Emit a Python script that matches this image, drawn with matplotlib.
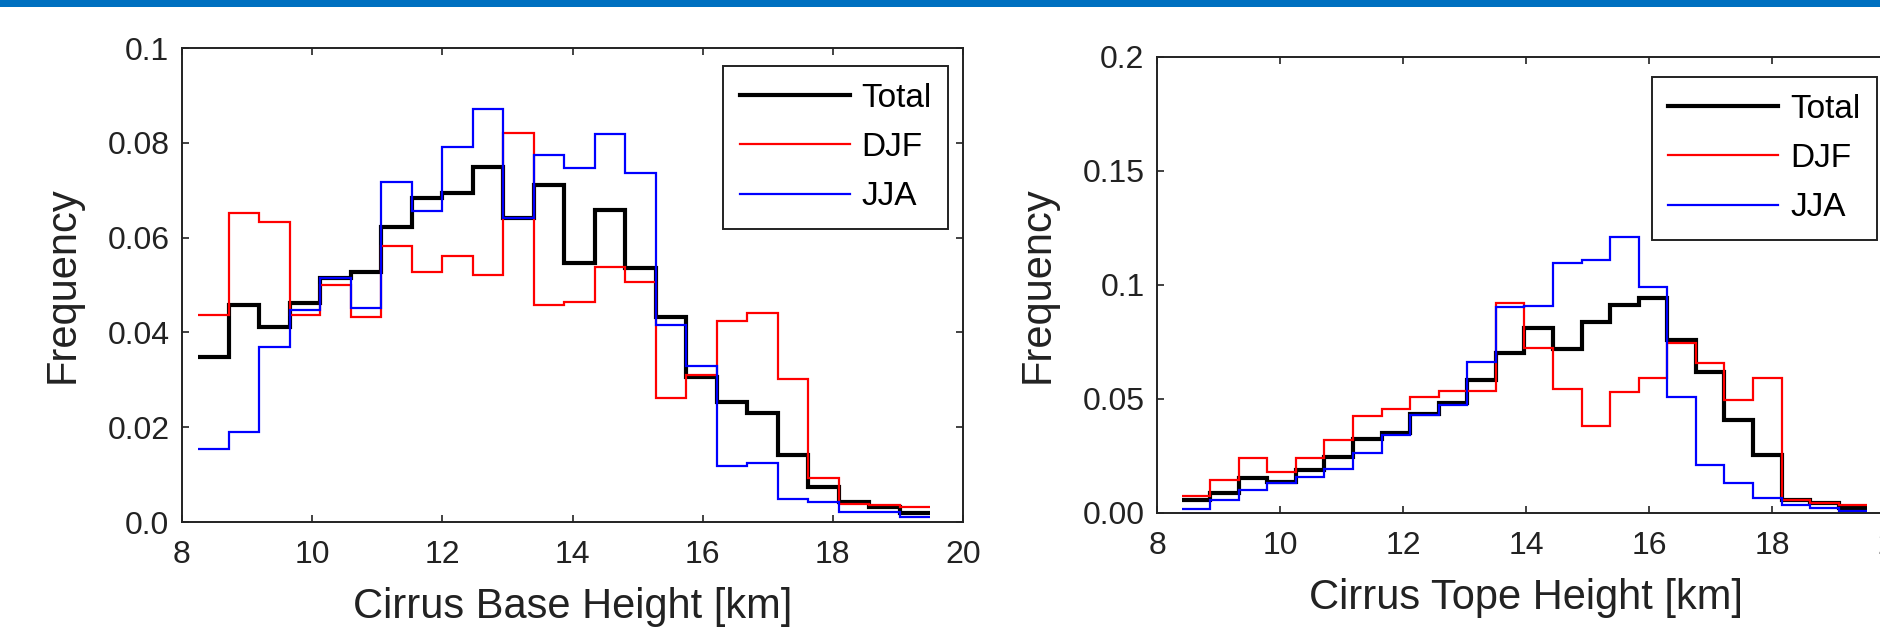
import numpy as np
import matplotlib
matplotlib.use("Agg")
import matplotlib.pyplot as plt
from matplotlib.patches import Rectangle

plt.rcParams['font.family'] = ['Liberation Sans', 'DejaVu Sans']

# bin edges (24 bins each)
base_edges = np.linspace(8.25, 19.5, 25)
top_edges = np.linspace(8.4, 19.55, 25)

# Cirrus base height frequencies
base_total = [0.0348, 0.0458, 0.0411, 0.0462, 0.0515, 0.0527, 0.0623, 0.0683,
              0.0694, 0.0749, 0.0641, 0.0711, 0.0546, 0.0658, 0.0536, 0.0433,
              0.0306, 0.0253, 0.0229, 0.0141, 0.0074, 0.0042, 0.0032, 0.0019]
base_djf = [0.0437, 0.0652, 0.0633, 0.0437, 0.0500, 0.0433, 0.0582, 0.0527,
            0.0561, 0.0521, 0.0820, 0.0458, 0.0464, 0.0538, 0.0506, 0.0262,
            0.0310, 0.0424, 0.0441, 0.0302, 0.0093, 0.0038, 0.0036, 0.0032]
base_jja = [0.0154, 0.0190, 0.0369, 0.0447, 0.0515, 0.0451, 0.0717, 0.0656,
            0.0791, 0.0871, 0.0641, 0.0774, 0.0747, 0.0819, 0.0736, 0.0416,
            0.0329, 0.0118, 0.0125, 0.0049, 0.0042, 0.0021, 0.0021, 0.0010]

# Cirrus top height frequencies
top_total = [0.0057, 0.0088, 0.0154, 0.0136, 0.0189, 0.0246, 0.0325, 0.0351,
             0.0434, 0.0482, 0.0583, 0.0702, 0.0811, 0.0719, 0.0838, 0.0912,
             0.0943, 0.0759, 0.0618, 0.0408, 0.0254, 0.0057, 0.0044, 0.0022]
top_djf = [0.0075, 0.0145, 0.0241, 0.0180, 0.0241, 0.0320, 0.0425, 0.0456,
           0.0509, 0.0535, 0.0535, 0.0921, 0.0724, 0.0544, 0.0380, 0.0531,
           0.0592, 0.0746, 0.0658, 0.0496, 0.0592, 0.0057, 0.0044, 0.0035]
top_jja = [0.0018, 0.0057, 0.0101, 0.0132, 0.0158, 0.0193, 0.0263, 0.0342,
           0.0430, 0.0474, 0.0662, 0.0904, 0.0908, 0.1096, 0.1110, 0.1210,
           0.0991, 0.0509, 0.0211, 0.0132, 0.0066, 0.0035, 0.0022, 0.0010]

xticks = [8, 10, 12, 14, 16, 18, 20]
base_yticks = [0, 0.02, 0.04, 0.06, 0.08, 0.1]
base_ylabels = ['0.0', '0.02', '0.04', '0.06', '0.08', '0.1']
top_yticks = [0, 0.05, 0.1, 0.15, 0.2]
top_ylabels = ['0.00', '0.05', '0.1', '0.15', '0.2']

W, H = 1880, 635
fig = plt.figure(figsize=(W / 100, H / 100), dpi=100)

# blue band at the top
fig.patches.append(Rectangle((0, 1 - 7 / H), 1, 7 / H, transform=fig.transFigure,
                             facecolor='#0070C0', edgecolor='none'))

ax1 = fig.add_axes([182 / W, 1 - 522 / H, 781 / W, 474 / H])
ax2 = fig.add_axes([1157 / W, 1 - 513 / H, 738 / W, 456 / H])


def draw(ax, edges, total, djf, jja, yticks, ylabels, xlabel, anchor):
    ax.stairs(total, edges, baseline=None, color='black', lw=3.0, label='Total')
    ax.stairs(djf, edges, baseline=None, color='red', lw=1.6, label='DJF')
    ax.stairs(jja, edges, baseline=None, color='blue', lw=1.6, label='JJA')
    ax.set_xlim(8, 20)
    ax.set_ylim(yticks[0], yticks[-1])
    ax.set_xticks(xticks)
    ax.set_yticks(yticks)
    ax.set_yticklabels(ylabels)
    ax.tick_params(direction='in', length=5, width=1.2, labelsize=23,
                   top=True, right=True, colors='#222222')
    ax.tick_params(axis='x', pad=13)
    ax.tick_params(axis='y', pad=9)
    for s in ax.spines.values():
        s.set_linewidth(1.4)
        s.set_color('#222222')
    ax.set_xlabel(xlabel, fontsize=30, color='#222222', labelpad=12)
    ax.set_ylabel('Frequency', fontsize=30, color='#222222', labelpad=18)
    leg = ax.legend(loc='upper right', bbox_to_anchor=anchor, fontsize=24,
                    handlelength=3.3, handletextpad=0.35, borderpad=0.5,
                    labelspacing=0.55, fancybox=False, framealpha=1,
                    borderaxespad=0)
    leg.get_frame().set_edgecolor('#222222')
    leg.get_frame().set_linewidth(1.4)


draw(ax1, base_edges, base_total, base_djf, base_jja, base_yticks, base_ylabels,
     'Cirrus Base Height [km]', (0.981, 0.962))
draw(ax2, top_edges, top_total, top_djf, top_jja, top_yticks, top_ylabels,
     'Cirrus Tope Height [km]', (0.9756, 0.956))

fig.savefig('out.png', dpi=100)
